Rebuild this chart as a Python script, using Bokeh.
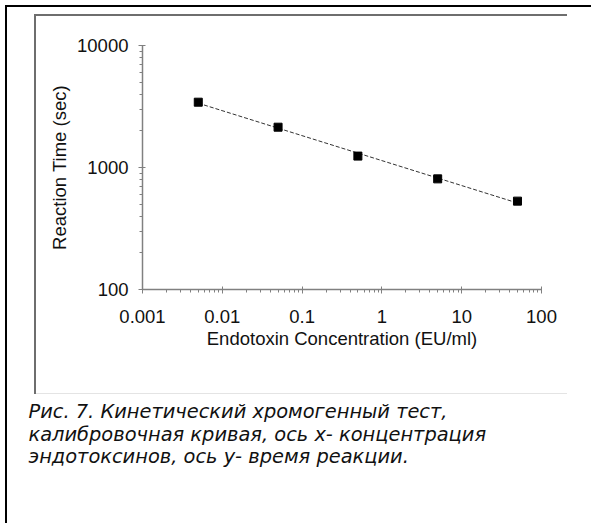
import numpy as np
from bokeh.plotting import figure
from bokeh.models import FixedTicker, CustomJSTickFormatter, Range1d, Title
from bokeh.embed import file_html
from bokeh.resources import INLINE

concentration = [0.005, 0.05, 0.5, 5, 50]
reaction_time = [3430, 2140, 1240, 807, 530]
x_ticks = [0.001, 0.01, 0.1, 1, 10, 100]
x_tick_labels = ["0.001", "0.01", "0.1", "1", "10", "100"]
y_ticks = [100, 1000, 10000]
y_tick_labels = ["100", "1000", "10000"]
x_label = "Endotoxin Concentration (EU/ml)"
y_label = "Reaction Time (sec)"
caption = [
    "Рис. 7. Кинетический хромогенный тест,",
    "калибровочная кривая, ось х- концентрация",
    "эндотоксинов, ось у- время реакции.",
]

W, H = 591, 523
p = figure(width=W, height=H, x_axis_type="log", y_axis_type="log",
           x_range=Range1d(0.001, 100), y_range=Range1d(100, 10000),
           output_backend="svg", toolbar_location=None,
           min_border_left=142, min_border_right=50, min_border_top=45, min_border_bottom=234)
p.outline_line_color = None
p.xgrid.visible = False
p.ygrid.visible = False
p.border_fill_color = None
p.background_fill_color = None

# page decorations (outer black corner border, inner chart-area box)
p.styles = {
    "background": (
        "linear-gradient(#000,#000) 5px 5px / 586px 2px no-repeat, "
        "linear-gradient(#000,#000) 5px 5px / 2px 518px no-repeat, "
        "linear-gradient(#6e6e6e,#6e6e6e) 34px 14px / 533px 2px no-repeat, "
        "linear-gradient(#6e6e6e,#6e6e6e) 34px 14px / 2px 380px no-repeat, "
        "linear-gradient(#e4e4e4,#e4e4e4) 34px 393px / 533px 1px no-repeat, "
        "#ffffff"
    )
}

def minors(ticks):
    out = []
    for t in ticks[:-1]:
        out += [t * k for k in range(2, 10)]
    return out

p.xaxis.ticker = FixedTicker(ticks=x_ticks, minor_ticks=minors(x_ticks))
p.yaxis.ticker = FixedTicker(ticks=y_ticks, minor_ticks=minors(y_ticks))
fmt_code = """
let best = 0; let bd = 1e9;
for (let i = 0; i < ticks_.length; i++) {
  const d = Math.abs(Math.log10(tick) - Math.log10(ticks_[i]));
  if (d < bd) { bd = d; best = i; }
}
return labels[best];
"""
p.xaxis.formatter = CustomJSTickFormatter(args=dict(ticks_=x_ticks, labels=x_tick_labels), code=fmt_code)
p.yaxis.formatter = CustomJSTickFormatter(args=dict(ticks_=y_ticks, labels=y_tick_labels), code=fmt_code)

for ax in (p.xaxis[0], p.yaxis[0]):
    ax.axis_line_color = "#808080"
    ax.axis_line_width = 1.5
    ax.major_tick_line_color = "#808080"
    ax.minor_tick_line_color = "#808080"
    ax.major_tick_in = 3
    ax.major_tick_out = 4
    ax.minor_tick_in = 0
    ax.minor_tick_out = 3
    ax.major_label_text_font = "Liberation Sans"
    ax.major_label_text_font_size = "18.5px"
    ax.major_label_text_color = "#111111"
    ax.axis_label_text_font = "Liberation Sans"
    ax.axis_label_text_font_size = "18.5px"
    ax.axis_label_text_font_style = "normal"
    ax.axis_label_text_color = "#111111"
p.xaxis.axis_label = x_label
p.yaxis.axis_label = y_label
p.xaxis.major_label_standoff = 16
p.yaxis.major_label_standoff = 10
p.xaxis.axis_label_standoff = 2
p.yaxis.axis_label_standoff = 4

# fitted trend line (log-log least squares)
lx = np.log10(concentration)
ly = np.log10(reaction_time)
m, b = np.polyfit(lx, ly, 1)
fx = [concentration[0], concentration[-1]]
fy = [10 ** (m * np.log10(v) + b) for v in fx]
p.line(fx, fy, line_color="#333333", line_width=1, line_dash="4 2")
p.scatter(concentration, reaction_time, marker="square", size=8, color="black")

p.add_layout(Title(text="\n".join(caption), align="left", offset=-114, standoff=94,
                   text_font="DejaVu Sans", text_font_style="italic", text_font_size="19.4px",
                   text_color="#111111", text_line_height=0.98), "below")

open("out.html", "w").write(file_html(p, INLINE))
